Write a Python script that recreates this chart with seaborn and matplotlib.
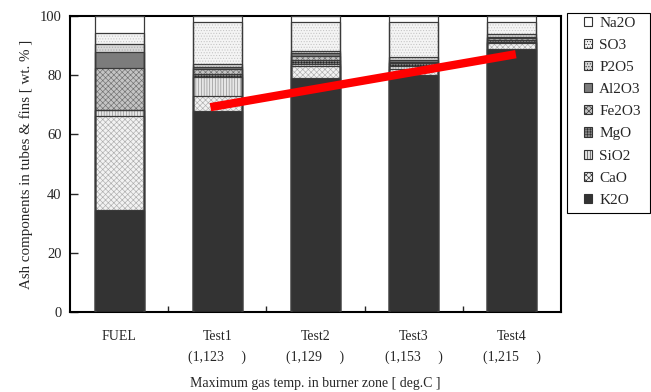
import matplotlib
matplotlib.use("Agg")
import matplotlib.pyplot as plt
import seaborn as sns
import pandas as pd
from matplotlib.patches import Patch, Rectangle

categories = ["FUEL", "Test1", "Test2", "Test3", "Test4"]
temp_labels = ["", "(1,123     )", "(1,129     )", "(1,153     )", "(1,215     )"]
components = ["K2O", "CaO", "SiO2", "MgO", "Fe2O3", "Al2O3", "P2O5", "SO3", "Na2O"]  # bottom -> top

K2O   = [34.4, 67.9, 79.0, 80.0, 88.8]
CaO   = [31.8, 5.1, 4.2, 2.1, 2.0]
SiO2  = [2.0, 6.5, 0.6, 1.1, 0.3]
MgO   = [0.0, 0.8, 1.2, 0.8, 0.7]
Fe2O3 = [14.3, 1.7, 1.5, 0.6, 0.8]
Al2O3 = [5.4, 0.9, 1.0, 0.7, 0.4]
P2O5  = [2.5, 0.8, 0.6, 0.8, 0.8]
SO3   = [4.0, 14.2, 9.9, 12.0, 4.1]
Na2O  = [5.6, 2.1, 2.0, 1.9, 2.1]

trend_x = [0.93, 4.04]
trend_y = [69.2, 87.1]

series = {"K2O": K2O, "CaO": CaO, "SiO2": SiO2, "MgO": MgO, "Fe2O3": Fe2O3,
          "Al2O3": Al2O3, "P2O5": P2O5, "SO3": SO3, "Na2O": Na2O}

# style: facecolor, hatch, hatch colour
styles = {
    "K2O":   ("#333333", None,      "#333333"),
    "CaO":   ("#f2f2f2", "xxxxxx",  "#adadad"),
    "SiO2":  ("#e6e6e6", "||||||",  "#8c8c8c"),
    "MgO":   ("#8a8a8a", "++++++",  "#262626"),
    "Fe2O3": ("#c4c4c4", "xxxxxx",  "#707070"),
    "Al2O3": ("#7c7c7c", None,      "#7c7c7c"),
    "P2O5":  ("#d8d8d8", "......",  "#a8a8a8"),
    "SO3":   ("#f4f4f4", "......",  "#c4c4c4"),
    "Na2O":  ("#ffffff", None,      "#ffffff"),
}

sns.set_style("white")
plt.rcParams["font.family"] = ["Liberation Serif", "DejaVu Serif"]
plt.rcParams["hatch.linewidth"] = 0.45

df = pd.DataFrame(series, index=categories)
cum = df[components].cumsum(axis=1)

fig = plt.figure(figsize=(6.51, 3.92), dpi=100)
ax = fig.add_axes([70 / 651, 1 - 312 / 392, 491 / 651, 296 / 392])

# stacked bars: draw cumulative totals from the top layer down
for comp in reversed(components):
    fc, hatch, hc = styles[comp]
    n_before = len(ax.patches)
    d = pd.DataFrame({"cat": categories, "val": cum[comp].values})
    sns.barplot(data=d, x="cat", y="val", order=categories, width=0.5,
                color=fc, saturation=1, errorbar=None, ax=ax, zorder=2)
    for p in ax.patches[n_before:]:
        p.set_facecolor(fc)
        p.set_edgecolor(hc)
        p.set_linewidth(0)
        if hatch:
            p.set_hatch(hatch)

# segment outlines
for comp in reversed(components):
    d = pd.DataFrame({"cat": categories, "val": cum[comp].values})
    n_before = len(ax.patches)
    sns.barplot(data=d, x="cat", y="val", order=categories, width=0.5,
                color="#333333", errorbar=None, ax=ax, zorder=3, fill=False)
    for p in ax.patches[n_before:]:
        p.set_facecolor("none")
        p.set_edgecolor("#3a3a3a")
        p.set_linewidth(0.9)

# red trend line
sns.lineplot(x=trend_x, y=trend_y, color="red", linewidth=6, ax=ax, zorder=5)
ax.lines[-1].set_solid_capstyle("butt")

ax.set_xlim(-0.5, 4.5)
ax.set_ylim(0, 100)
ax.set_yticks([0, 20, 40, 60, 80, 100])
ax.set_xticks(range(len(categories)))
ax.set_xticklabels([c if t == "" else f"{c}\n{t}" for c, t in zip(categories, temp_labels)],
                   fontsize=10, linespacing=1.75, va="top")
ax.set_xticks([0.5, 1.5, 2.5, 3.5], minor=True)
ax.tick_params(axis="x", which="major", length=0, pad=13)
ax.tick_params(axis="x", which="minor", direction="in", length=4, width=1, bottom=True)
ax.tick_params(axis="y", which="major", direction="in", length=6, width=1, left=True,
               labelsize=10.5, pad=6)
for s in ax.spines.values():
    s.set_visible(True)
    s.set_color("black")
    s.set_linewidth(1.5)

ax.set_xlabel("Maximum gas temp. in burner zone [ deg.C ]", fontsize=10, labelpad=9.5)
ax.set_ylabel("Ash components in tubes & fins [ wt. % ]", fontsize=10.8, labelpad=5)

handles = []
for comp in reversed(components):
    fc, hatch, hc = styles[comp]
    handles.append(Patch(facecolor=fc, edgecolor="#333333", hatch=hatch, linewidth=0.8,
                         label=comp))
leg = fig.legend(handles=handles, loc="upper left", bbox_to_anchor=(584 / 651, 1 - 16.5 / 392),
                 fontsize=11, frameon=False,
                 handlelength=0.55, handleheight=0.55, handletextpad=0.45,
                 labelspacing=0.6, borderpad=0.0, borderaxespad=0)

# legend frame
fig.patches.append(Rectangle((567 / 651, 1 - 213 / 392), 83 / 651, 200 / 392,
                             transform=fig.transFigure, fill=False,
                             edgecolor="black", linewidth=0.8))

fig.savefig("out.png", dpi=100)
